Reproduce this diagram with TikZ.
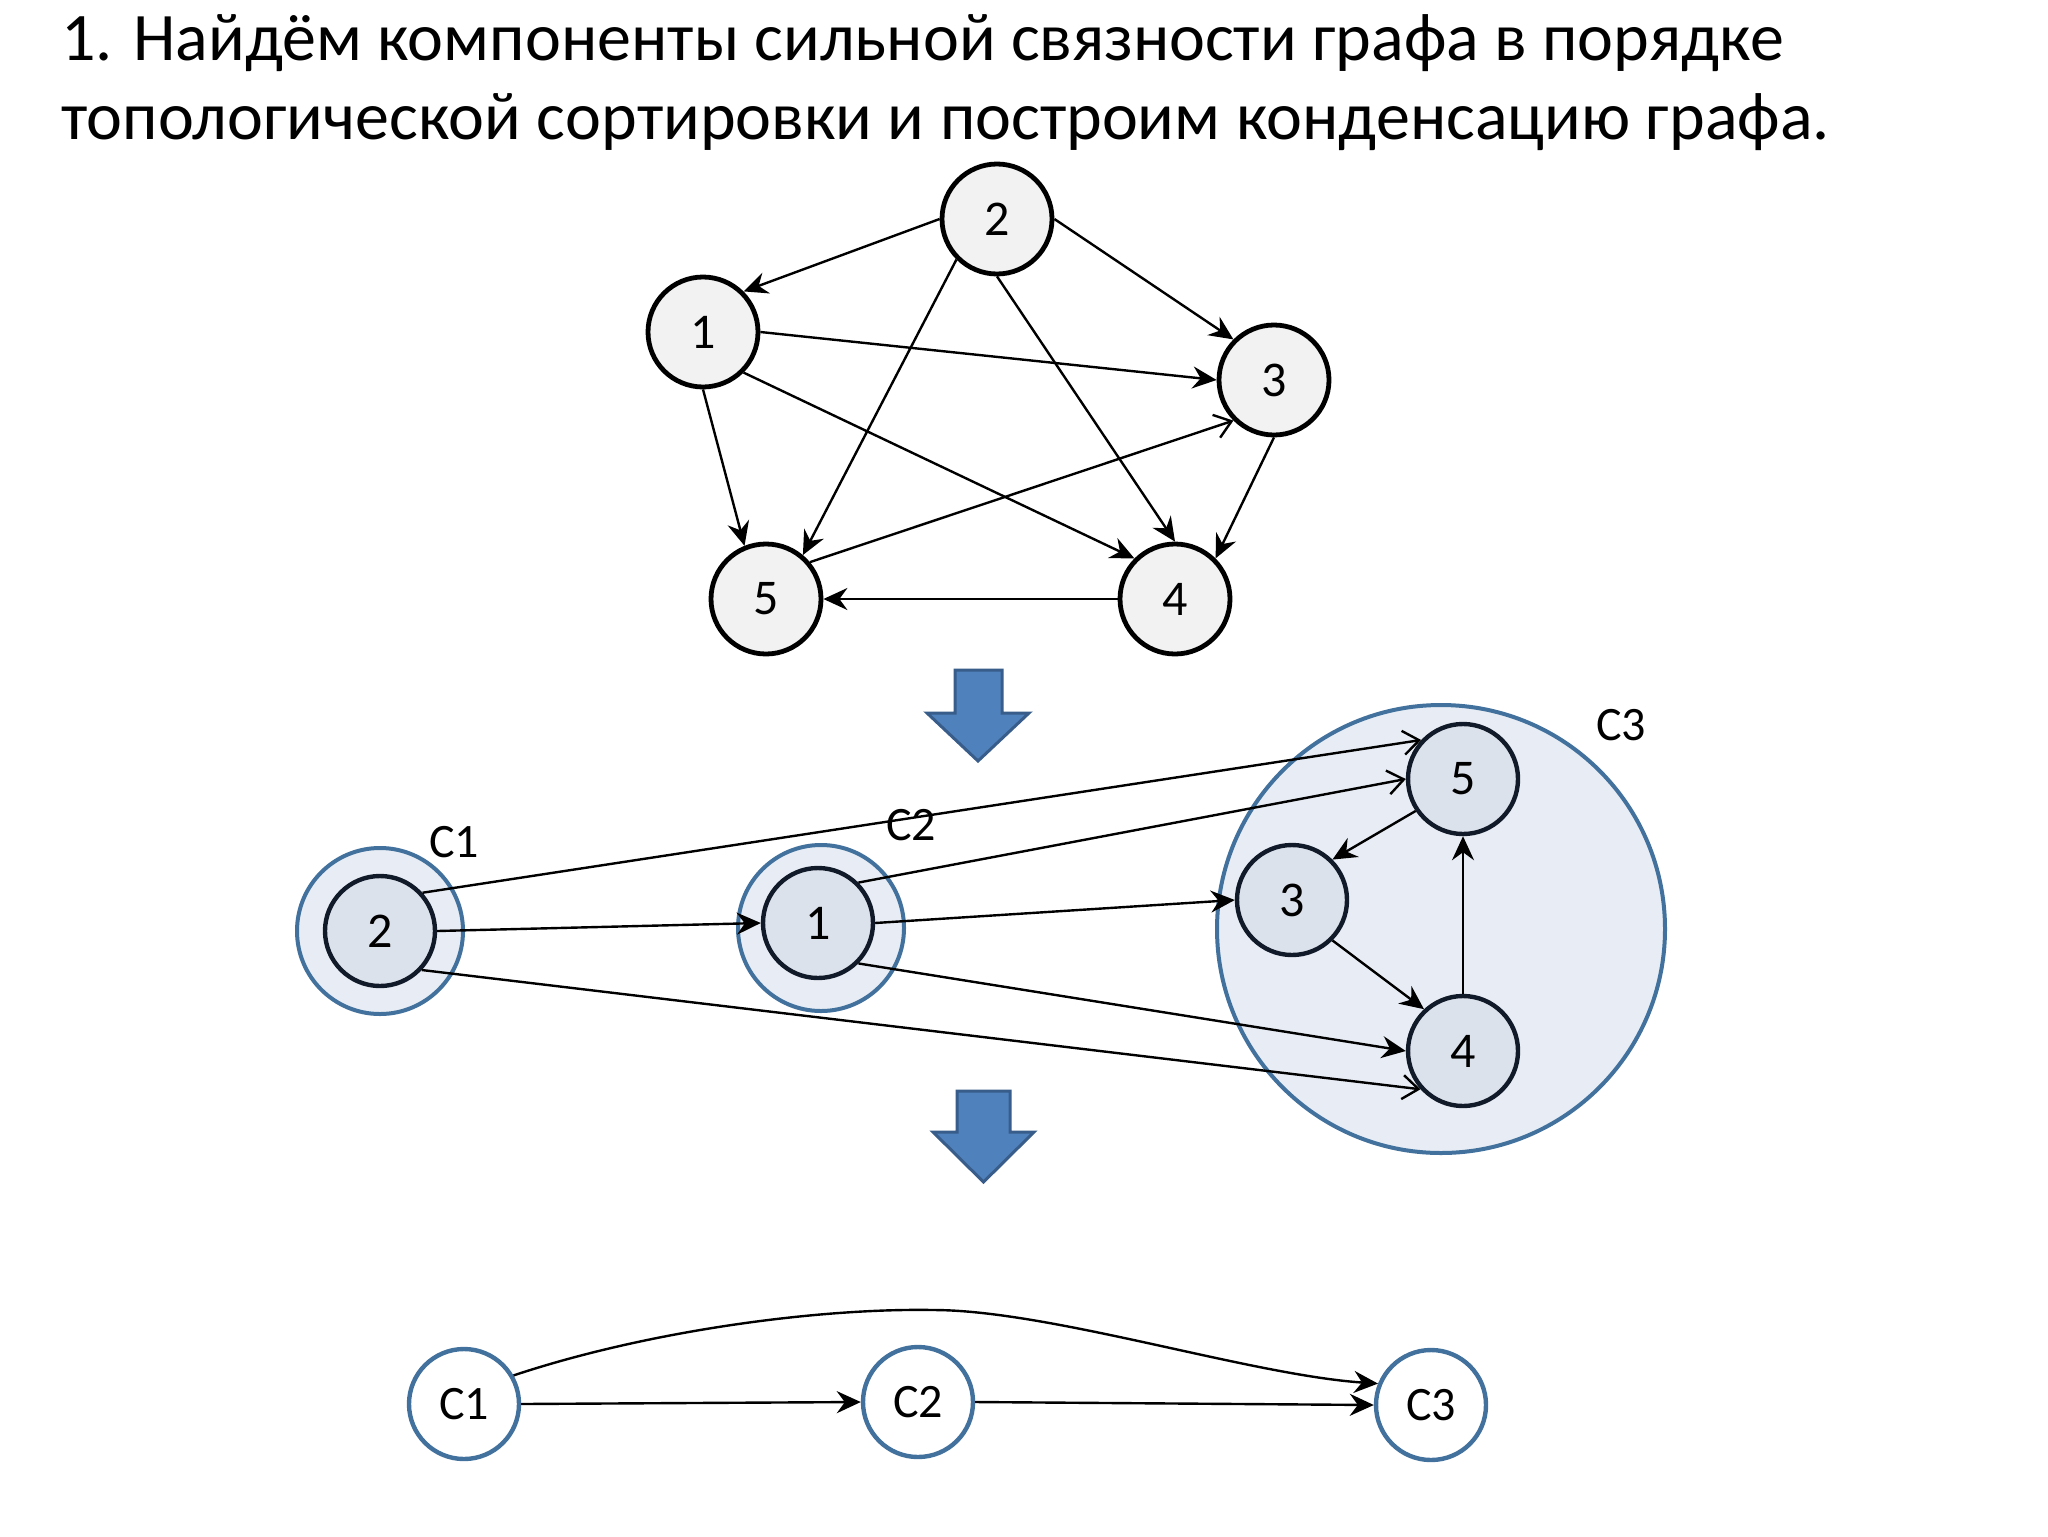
\documentclass[tikz,border=0pt]{standalone}
\usepackage{fontspec}
\setmainfont{Carlito}
\usetikzlibrary{arrows.meta}
\definecolor{nodegray}{HTML}{F2F2F2}
\definecolor{ringblue}{HTML}{41719C}
\definecolor{ringfill}{HTML}{E8EDF5}
\definecolor{innerfill}{HTML}{DCE2EC}
\definecolor{innerdraw}{HTML}{111A28}
\definecolor{arrowfill}{HTML}{4F81BD}
\definecolor{arrowdraw}{HTML}{385D8A}
\begin{document}
\begin{tikzpicture}[x=0.5pt,y=-0.5pt,
  topnode/.style={circle,draw=black,fill=nodegray,line width=2.4pt,minimum size=55pt,inner sep=0pt,font=\fontsize{25}{30}\selectfont},
  innernode/.style={circle,draw=innerdraw,fill=innerfill,line width=2.2pt,minimum size=55pt,inner sep=0pt,font=\fontsize{25}{30}\selectfont},
  ring/.style={circle,draw=ringblue,fill=ringfill,line width=2pt,inner sep=0pt},
  compnode/.style={circle,draw=ringblue,fill=white,line width=2.2pt,minimum size=55pt,inner sep=0pt,font=\fontsize{24}{28}\selectfont},
  lbl/.style={font=\fontsize{24}{28}\selectfont,inner sep=0pt},
  titletext/.style={anchor=base west,inner sep=0pt,font=\fontsize{34}{40}\selectfont},
  edge/.style={line width=1.2pt,-{Stealth[length=12pt,width=11pt,inset=4pt]}},
  openedge/.style={line width=1.2pt,-{Straight Barb[length=8pt,width=12pt]}},
  bigarrow/.style={fill=arrowfill,draw=arrowdraw,line width=1.5pt,line join=miter}]
\fill[white] (0,0) rectangle (2048,1536);
\useasboundingbox (0,0) rectangle (2048,1536);

% title
\node[titletext] (t1) at (61,61) {1. Найдём компоненты сильной связности графа в порядке};
\node[titletext] (t2) at (61,140) {топологической сортировки и построим конденсацию графа.};

% top graph
\node[topnode] (a2) at (997,219) {2};
\node[topnode] (a1) at (703,332) {1};
\node[topnode] (a3) at (1274,380) {3};
\node[topnode] (a5) at (766,599) {5};
\node[topnode] (a4) at (1175,599) {4};

\draw[edge] (a2.west) -- (a1.45);
\draw[edge] (a2.east) -- (a3.135);
\draw[edge] (a2.225) -- (a5.50);
\draw[edge] (a2.south) -- (a4.north);
\draw[edge] (a1.east) -- (a3.west);
\draw[edge] (a1.south) -- (a5.112);
\draw[edge] (a1.-45) -- (a4.135);
\draw[openedge] (a5.40) -- (a3.225);
\draw[edge] (a3.south) -- (a4.45);
\draw[edge] (a4.west) -- (a5.east);

% big arrows
\path[bigarrow] (955,670) -- (1002,670) -- (1002,713) -- (1029,713) -- (978,761) -- (927,713) -- (955,713) -- cycle;
\path[bigarrow] (957,1091) -- (1010,1091) -- (1010,1132) -- (1034,1132) -- (983.5,1182) -- (933,1132) -- (957,1132) -- cycle;

% middle: components
\node[ring,minimum size=83pt] (r1) at (380,931) {};
\node[ring,minimum size=83pt] (r2) at (821,928) {};
\node[ring,minimum size=224pt] (r3) at (1441,929) {};
\node[lbl] (l1) at (454,842) {C1};
\node[lbl] (l2) at (911,825) {C2};
\node[lbl] (l3) at (1621,725) {C3};

\node[innernode] (m2) at (380,931) {2};
\node[innernode] (m1) at (818,923) {1};
\node[innernode] (m5) at (1463,779) {5};
\node[innernode] (m3) at (1292,900) {3};
\node[innernode] (m4) at (1463,1051) {4};

\draw[openedge] (m2.42) -- (m5.137);
\draw[edge] (m2.east) -- (m1.west);
\draw[openedge] (m2.-43) -- (m4.222);
\draw[openedge] (m1.45) -- (m5.west);
\draw[edge] (m1.east) -- (m3.west);
\draw[edge] (m1.-45) -- (m4.west);
\draw[edge] (m5.214) -- (m3.45);
\draw[edge] (m3.-45) -- (m4.133);
\draw[edge] (m4.north) -- (m5.south);

% bottom: condensation
\node[compnode] (b1) at (464,1404) {C1};
\node[compnode] (b2) at (918,1402) {C2};
\node[compnode] (b3) at (1431,1405) {C3};
\coordinate (peak) at (933,1310);
\draw[edge] (b1.east) -- (b2.west);
\draw[edge] (b2.east) -- (b3.west);
\draw[edge] (b1.30) .. controls (650,1330) and (820,1308) .. (peak)
  .. controls (1050,1310) and (1250,1375) .. (b3.158);
\end{tikzpicture}
\end{document}
